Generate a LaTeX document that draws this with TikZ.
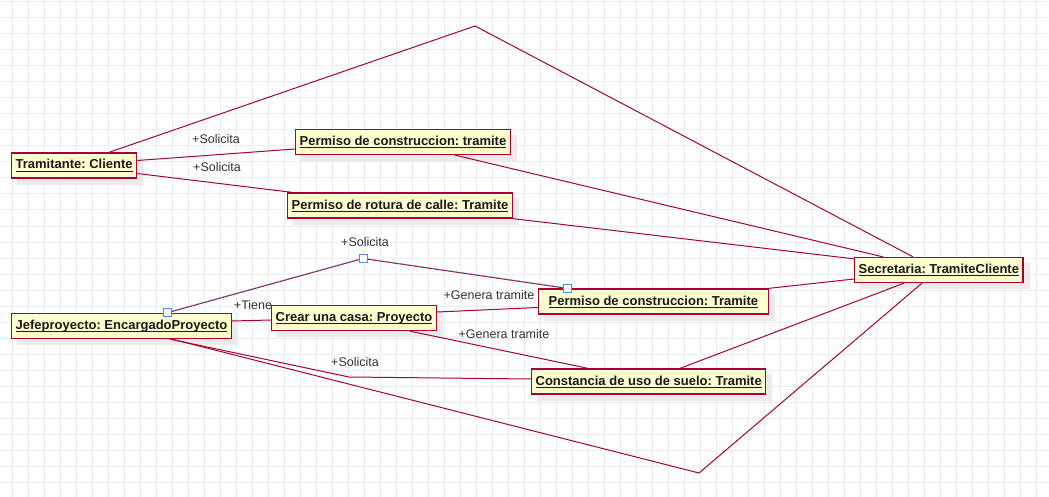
\documentclass[tikz,border=0pt]{standalone}
\usepackage{fontspec}
\setmainfont{Liberation Sans}
\frenchspacing
\definecolor{umlred}{HTML}{A80036}
\definecolor{umlfill}{HTML}{FEFECE}
\definecolor{gridgray}{HTML}{EDEDED}
\definecolor{shadowgray}{HTML}{EBEBEB}
\definecolor{labelgray}{HTML}{333333}
\definecolor{handleblue}{HTML}{4A90E2}
\pgfdeclarelayer{back}
\pgfdeclarelayer{shade}
\pgfdeclarelayer{lines}
\pgfsetlayers{back,shade,lines,main}
\newcommand\objname[1]{\setbox0\hbox{#1}\rlap{\rule[-2.6pt]{\wd0}{0.9pt}}\box0}
\tikzset{
  obj/.style={draw=umlred, line width=1.3pt, fill=umlfill, anchor=west,
    inner xsep=4pt, inner ysep=0pt, minimum height=25pt, text height=9.5pt, text depth=2.5pt,
    font=\fontsize{13}{15}\selectfont\bfseries, text=black!90},
  assoc/.style={draw=umlred, line width=1pt},
  role/.style={font=\fontsize{12.5}{14}\selectfont, text=labelgray, inner sep=0pt},
  handle/.style={draw=handleblue, fill=white, line width=1pt, minimum size=8pt, inner sep=0pt},
  gridline/.style={draw=gridgray, line width=1pt}
}
\begin{document}
\begin{tikzpicture}[x=1pt, y=-1pt]
  \useasboundingbox (0,0) rectangle (1049,497);
  \begin{pgfonlayer}{back}
    \fill[white] (0,0) rectangle (1049,497);
    \foreach \gx in {12,28,...,1044} \draw[gridline] (\gx,0) -- (\gx,497);
    \foreach \gy in {2,18,...,482} \draw[gridline] (0,\gy) -- (1049,\gy);
  \end{pgfonlayer}
  % objetos
  \node[obj] (tram) at (11,165.5) {\objname{Tramitante: Cliente}};
  \node[obj] (pcons) at (295,142) {\objname{Permiso de construccion: tramite}};
  \node[obj] (prot) at (287,205.5) {\objname{Permiso de rotura de calle: Tramite}};
  \node[obj] (secr) at (854,270) {\objname{Secretaria: TramiteCliente}};
  \node[obj, inner xsep=10pt] (pconsT) at (538,301.5) {\objname{Permiso de construccion: Tramite}};
  \node[obj] (const) at (531,381.5) {\objname{Constancia de uso de suelo: Tramite}};
  \node[obj] (jefe) at (11,326) {\objname{Jefeproyecto: EncargadoProyecto}};
  \node[obj] (casa) at (271,318) {\objname{Crear una casa: Proyecto}};
  \begin{pgfonlayer}{shade}
    \foreach \o in {tram,pcons,prot,secr,pconsT,const,jefe,casa}
      \fill[shadowgray] ([shift={(6pt,-6pt)}]\o.south west) rectangle ([shift={(6pt,-6pt)}]\o.north east);
  \end{pgfonlayer}
  \coordinate (peak) at (475,26);
  \coordinate (valley) at (699,473);
  \coordinate (bend) at (349,377);
  \node[handle] (h1) at ([xshift=156pt]jefe.north west) {};
  \node[handle] (h2) at (363,258.5) {};
  \node[handle] (h3) at ([xshift=29pt]pconsT.north west) {};
  \begin{pgfonlayer}{lines}
    \draw[assoc] ([xshift=98pt]tram.north west) -- (peak) -- ([xshift=59pt]secr.north west);
    \draw[assoc] ([yshift=5pt]tram.east) -- ([yshift=-7pt]pcons.west);
    \draw[assoc] ([yshift=-8pt]tram.east) -- ([xshift=5pt]prot.north west);
    \draw[assoc] ([xshift=160pt]pcons.south west) -- ([xshift=29pt]secr.north west);
    \draw[assoc] (prot.south east) -- ([yshift=-2pt]secr.north west);
    \draw[assoc] ([yshift=-9pt]secr.west) -- (pconsT.north east);
    \draw[assoc] ([xshift=50pt]secr.south west) -- ([xshift=149pt]const.north west);
    \draw[assoc] ([xshift=68pt]secr.south west) -- (valley) -- ([xshift=161pt]jefe.south west);
    \draw[assoc] (h1.center) -- (h2.center) -- (h3.center);
    \draw[handleblue, line width=0.35pt] ([yshift=0.4pt]h1.center) -- ([yshift=0.4pt]h2.center) -- ([yshift=0.4pt]h3.center);
    \draw[assoc] ([yshift=5pt]jefe.east) -- ([yshift=-2pt]casa.west);
    \draw[assoc] ([yshift=6pt]casa.east) -- ([yshift=-6pt]pconsT.west);
    \draw[assoc] ([xshift=139pt]casa.south west) -- ([xshift=57pt]const.north west);
    \draw[assoc] ([xshift=159pt]jefe.south west) -- (bend) -- ([yshift=2.5pt]const.west);
  \end{pgfonlayer}
  % roles
  \node[role] (r1) at (216,139) {+Solicita};
  \node[role] (r2) at (217,167) {+Solicita};
  \node[role] (r3) at (365,242) {+Solicita};
  \node[role] (r4) at (253,305) {+Tiene};
  \node[role] (r5) at (489,295) {+Genera tramite};
  \node[role] (r6) at (504,334) {+Genera tramite};
  \node[role] (r7) at (355,362) {+Solicita};
\end{tikzpicture}
\end{document}
